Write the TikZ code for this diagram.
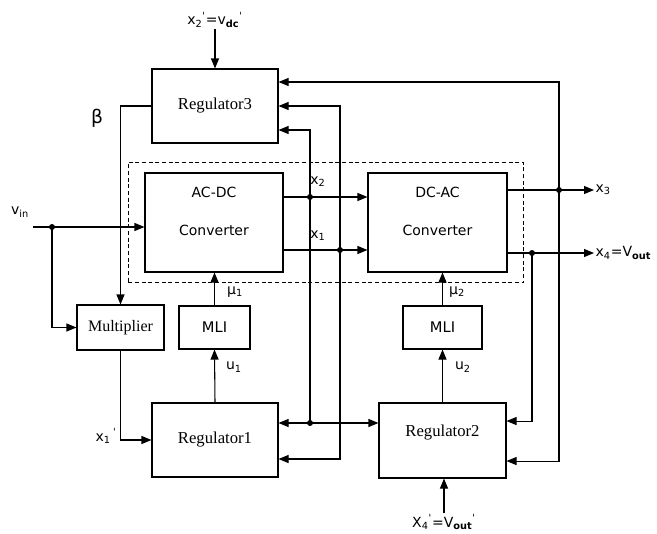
\documentclass[tikz,border=0pt]{standalone}
\usepackage{fontspec}
\setmainfont{Liberation Serif}
\newfontfamily\verd{DejaVu Sans}
\usetikzlibrary{arrows.meta,positioning,fit}

\tikzset{
  blk/.style={draw, line width=0.8pt, inner sep=0pt, font=\fontsize{12.5}{14}\selectfont},
  wire/.style={line width=0.8pt},
  lnk/.style={line width=0.8pt, -{Triangle[length=7.5pt,width=6pt]}},
  lab/.style={font=\verd\fontsize{10.5}{12}\selectfont, inner sep=1pt},
  dot/.style={circle, fill, inner sep=0pt, minimum size=4.5pt}
}
\newcommand{\pr}{\textsuperscript{\textquotesingle}}

\begin{document}
\begin{tikzpicture}[x=0.75pt,y=-0.75pt]
    \useasboundingbox (0,0) rectangle (657,533);

    % blocks
    \node[blk, minimum width=94.5pt, minimum height=55.5pt] (reg3) at (215,106) {Regulator3};
    \node[blk, minimum width=103.5pt, minimum height=74.25pt] (acdc) at (214,222.5) {};
    \node[blk, minimum width=104.25pt, minimum height=74.25pt] (dcac) at (437.5,222.5) {};
    \node[draw, dash pattern=on 3pt off 2pt, line width=0.7pt, inner xsep=12pt, inner ysep=7.8pt, fit=(acdc)(dcac)] (plant) {};
    \node[blk, minimum width=65.25pt, minimum height=33.75pt, font=\fontsize{12}{14}\selectfont] (mult) at (120.5,327.5) {Multiplier};
    \node[blk, minimum width=53.25pt, minimum height=32.25pt, font=\verd\fontsize{11}{12}\selectfont] (mli1) at (214.5,327.5) {MLI};
    \node[blk, minimum width=59.25pt, minimum height=32.25pt, font=\verd\fontsize{11}{12}\selectfont] (mli2) at (442.5,327.5) {MLI};
    \node[blk, minimum width=94.5pt, minimum height=55.5pt] (reg1) at (215,440) {Regulator1};
    \node[blk, minimum width=95.25pt, minimum height=56.25pt] (reg2) at (442.5,440.5) {};
    \node[font=\fontsize{12.5}{14}\selectfont] (reg2t) at ([yshift=6pt]reg2.center) {Regulator2};

    \node[lab, font=\verd\fontsize{10.5}{12}\selectfont] (acdct) at ([yshift=-15pt]acdc.north) {AC-DC};
    \node[lab, font=\verd\fontsize{10.5}{12}\selectfont] (acdcb) at ([yshift=-43.5pt]acdc.north) {Converter};
    \node[lab, font=\verd\fontsize{10.5}{12}\selectfont] (dcact) at ([yshift=-15pt]dcac.north) {DC-AC};
    \node[lab, font=\verd\fontsize{10.5}{12}\selectfont] (dcacb) at ([yshift=-43.5pt]dcac.north) {Converter};

    % junctions
    \node[dot] (jin) at (52,227) {};
    \node[dot] (j2) at (310,197) {};
    \node[dot] (j1) at (340,250) {};
    \node[dot] (j2b) at (310,423) {};
    \node[dot] (j3) at (559,190) {};
    \node[dot] (j4) at (532,253) {};

    % labels
    \node[lab] (vdcref) at (215,20) {x\textsubscript{2}\pr=v\textsubscript{\bfseries dc}\pr};
    \node[lab] (voutref) at (444,522) {X\textsubscript{4}\pr=V\textsubscript{\bfseries out}\pr};
    \node[lab] (vinl) at (20,212) {v\textsubscript{in}};
    \node[lab, font=\verd\fontsize{14}{15}\selectfont] (betal) at (97,118) {β};
    \node[lab] (x2l) at (318,182) {x\textsubscript{2}};
    \node[lab] (x1l) at (318,236) {x\textsubscript{1}};
    \node[lab, anchor=west] (x3l) at (594,190) {x\textsubscript{3}};
    \node[lab, anchor=west] (x4l) at (594,253) {x\textsubscript{4}=V\textsubscript{\bfseries out}};
    \node[lab] (x1rl) at (106,436) {x\textsubscript{1}\,\pr};
    \node[lab] (mu1l) at (235,292) {μ\textsubscript{1}};
    \node[lab] (u1l) at (234,367) {u\textsubscript{1}};
    \node[lab] (mu2l) at (457,292) {μ\textsubscript{2}};
    \node[lab] (u2l) at (463,367) {u\textsubscript{2}};

    % references
    \draw[lnk] (vdcref) -- (reg3);
    \draw[lnk] (voutref) -- (voutref |- reg2.south);

    % input
    \coordinate (vin0) at (33,227);
    \draw[wire] (vin0) -- (jin.center);
    \draw[lnk] (jin.center) -- (acdc.west |- jin);
    \draw[lnk] (jin.center) |- (mult.west);
    \draw[lnk] (reg3.west) -| (mult.north);
    \draw[lnk] (mult.south) |- (reg1.west);

    % x2 and x1
    \draw[wire] (acdc.east |- j2) -- (j2.center);
    \draw[lnk] (j2.center) -- (dcac.west |- j2);
    \draw[wire] (acdc.east |- j1) -- (j1.center);
    \draw[lnk] (j1.center) -- (dcac.west |- j1);
    \draw[lnk] (j2.center) |- ([yshift=-18pt]reg3.east);
    \draw[lnk] (j1.center) |- (reg3.east);
    \draw[wire] (j2.center) -- (j2b.center);
    \draw[lnk] (j2b.center) -- (reg1.east |- j2b);
    \draw[lnk] (j2b.center) -- (reg2.west |- j2b);
    \draw[lnk] (j1.center) |- ([yshift=-14.25pt]reg1.east);

    % outputs
    \draw[wire] (dcac.east |- j3) -- (j3.center);
    \draw[lnk] (j3.center) -- (x3l.west);
    \draw[wire] (dcac.east |- j4) -- (j4.center);
    \draw[lnk] (j4.center) -- (x4l.west);
    \draw[lnk] (j3.center) |- ([yshift=18pt]reg3.east);
    \draw[lnk] (j3.center) |- ([yshift=-15.4pt]reg2.east);
    \draw[lnk] (j4.center) |- ([yshift=14.6pt]reg2.east);

    % modulation
    \draw[lnk] (reg1.north) -- (mli1.south);
    \draw[lnk] (mli1.north) -- (mli1.north |- acdc.south);
    \draw[lnk] (reg2.north) -- (mli2.south);
    \draw[lnk] (mli2.north) -- (mli2.north |- dcac.south);
\end{tikzpicture}
\end{document}
